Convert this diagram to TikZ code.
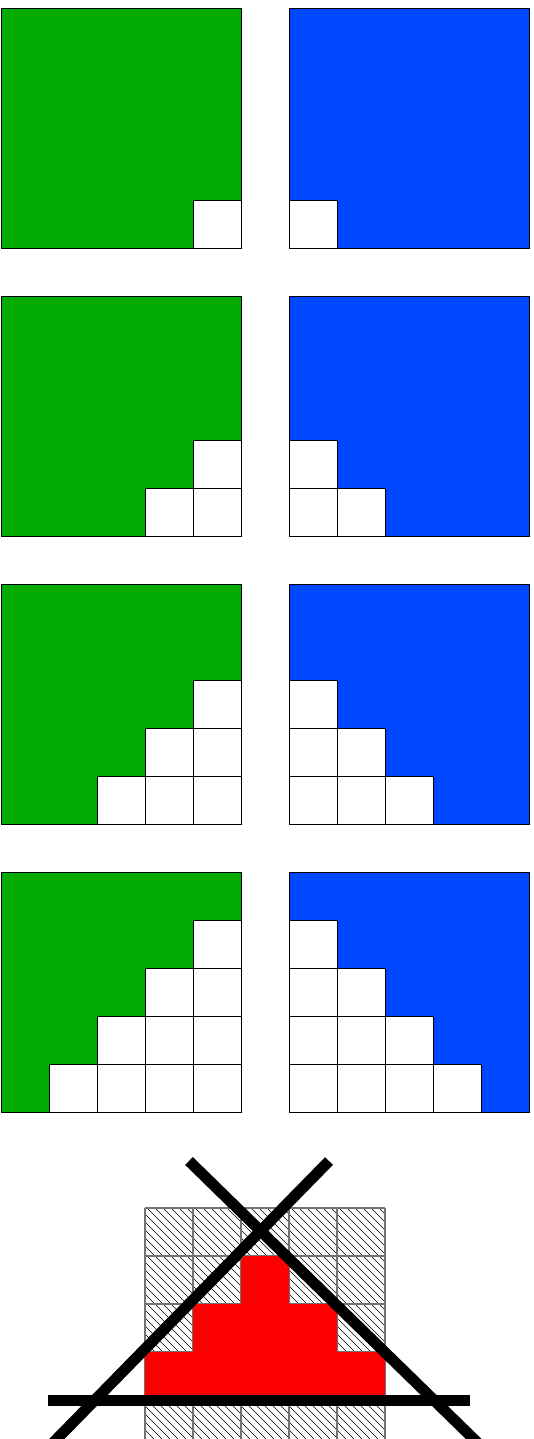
\documentclass[tikz,border=0pt]{standalone}
\definecolor{pgreen}{RGB}{0,170,0}
\definecolor{pblue}{RGB}{0,72,255}
\definecolor{gridgray}{RGB}{115,115,115}
\tikzset{
  panelg/.style={fill=pgreen,draw=black,line width=0.6pt},
  panelb/.style={fill=pblue,draw=black,line width=0.6pt},
  wcell/.style={fill=white,draw=black,line width=0.6pt},
  hatchline/.style={draw=black,line width=0.45pt},
  gridline/.style={draw=gridgray,line width=0.8pt},
  redshape/.style={fill=red,draw=red,line width=7.5pt,line join=round},
  barline/.style={draw=black,line width=8.25pt}
}
\begin{document}
\begin{tikzpicture}[x=0.75pt,y=-0.75pt]
\useasboundingbox (0,0) rectangle (534,1439);
% ---- four pairs of panels ----
\foreach \k in {1,...,4}{
  \pgfmathtruncatemacro\yo{8+288*(\k-1)}
  \draw[panelg] (1,\yo) rectangle ++(240,240);
  \draw[panelb] (289,\yo) rectangle ++(240,240);
  \foreach \r in {0,...,4}{
    \foreach \c in {0,...,4}{
      \pgfmathtruncatemacro\sg{\c+\r+\k}
      \ifnum\sg>8 \draw[wcell] (1+48*\c,\yo+48*\r) rectangle ++(48,48);\fi
      \pgfmathtruncatemacro\sb{\r+\k-\c}
      \ifnum\sb>4 \draw[wcell] (289+48*\c,\yo+48*\r) rectangle ++(48,48);\fi
    }
  }
}
% ---- hatched grid ----
\begin{scope}
  \clip (145,1208) rectangle (385,1450);
  \foreach \i in {-45,...,45}
    \draw[hatchline] (267+8*\i,1208) ++(-300,-300) -- ++(600,600);
\end{scope}
\foreach \i in {0,...,5}
  \draw[gridline] (145+48*\i,1208) -- (145+48*\i,1450);
\foreach \j in {0,...,4}
  \draw[gridline] (145,1208+48*\j) -- (385,1208+48*\j);
% ---- red staircase ----
\filldraw[redshape] (150,1395) -- (150,1357) -- (198,1357) -- (198,1309)
  -- (246,1309) -- (246,1261) -- (284,1261) -- (284,1309) -- (332,1309)
  -- (332,1357) -- (380,1357) -- (380,1395) -- cycle;
% ---- black bars ----
\coordinate (hl) at (48,1400);
\coordinate (hr) at (470,1400);
\coordinate (d1a) at (189,1161);
\coordinate (d1b) at (485,1450);
\coordinate (d2a) at (329,1161);
\coordinate (d2b) at (46,1450);
\draw[barline] (hl) -- (hr);
\draw[barline] (d1a) -- (d1b);
\draw[barline] (d2a) -- (d2b);
\end{tikzpicture}
\end{document}
